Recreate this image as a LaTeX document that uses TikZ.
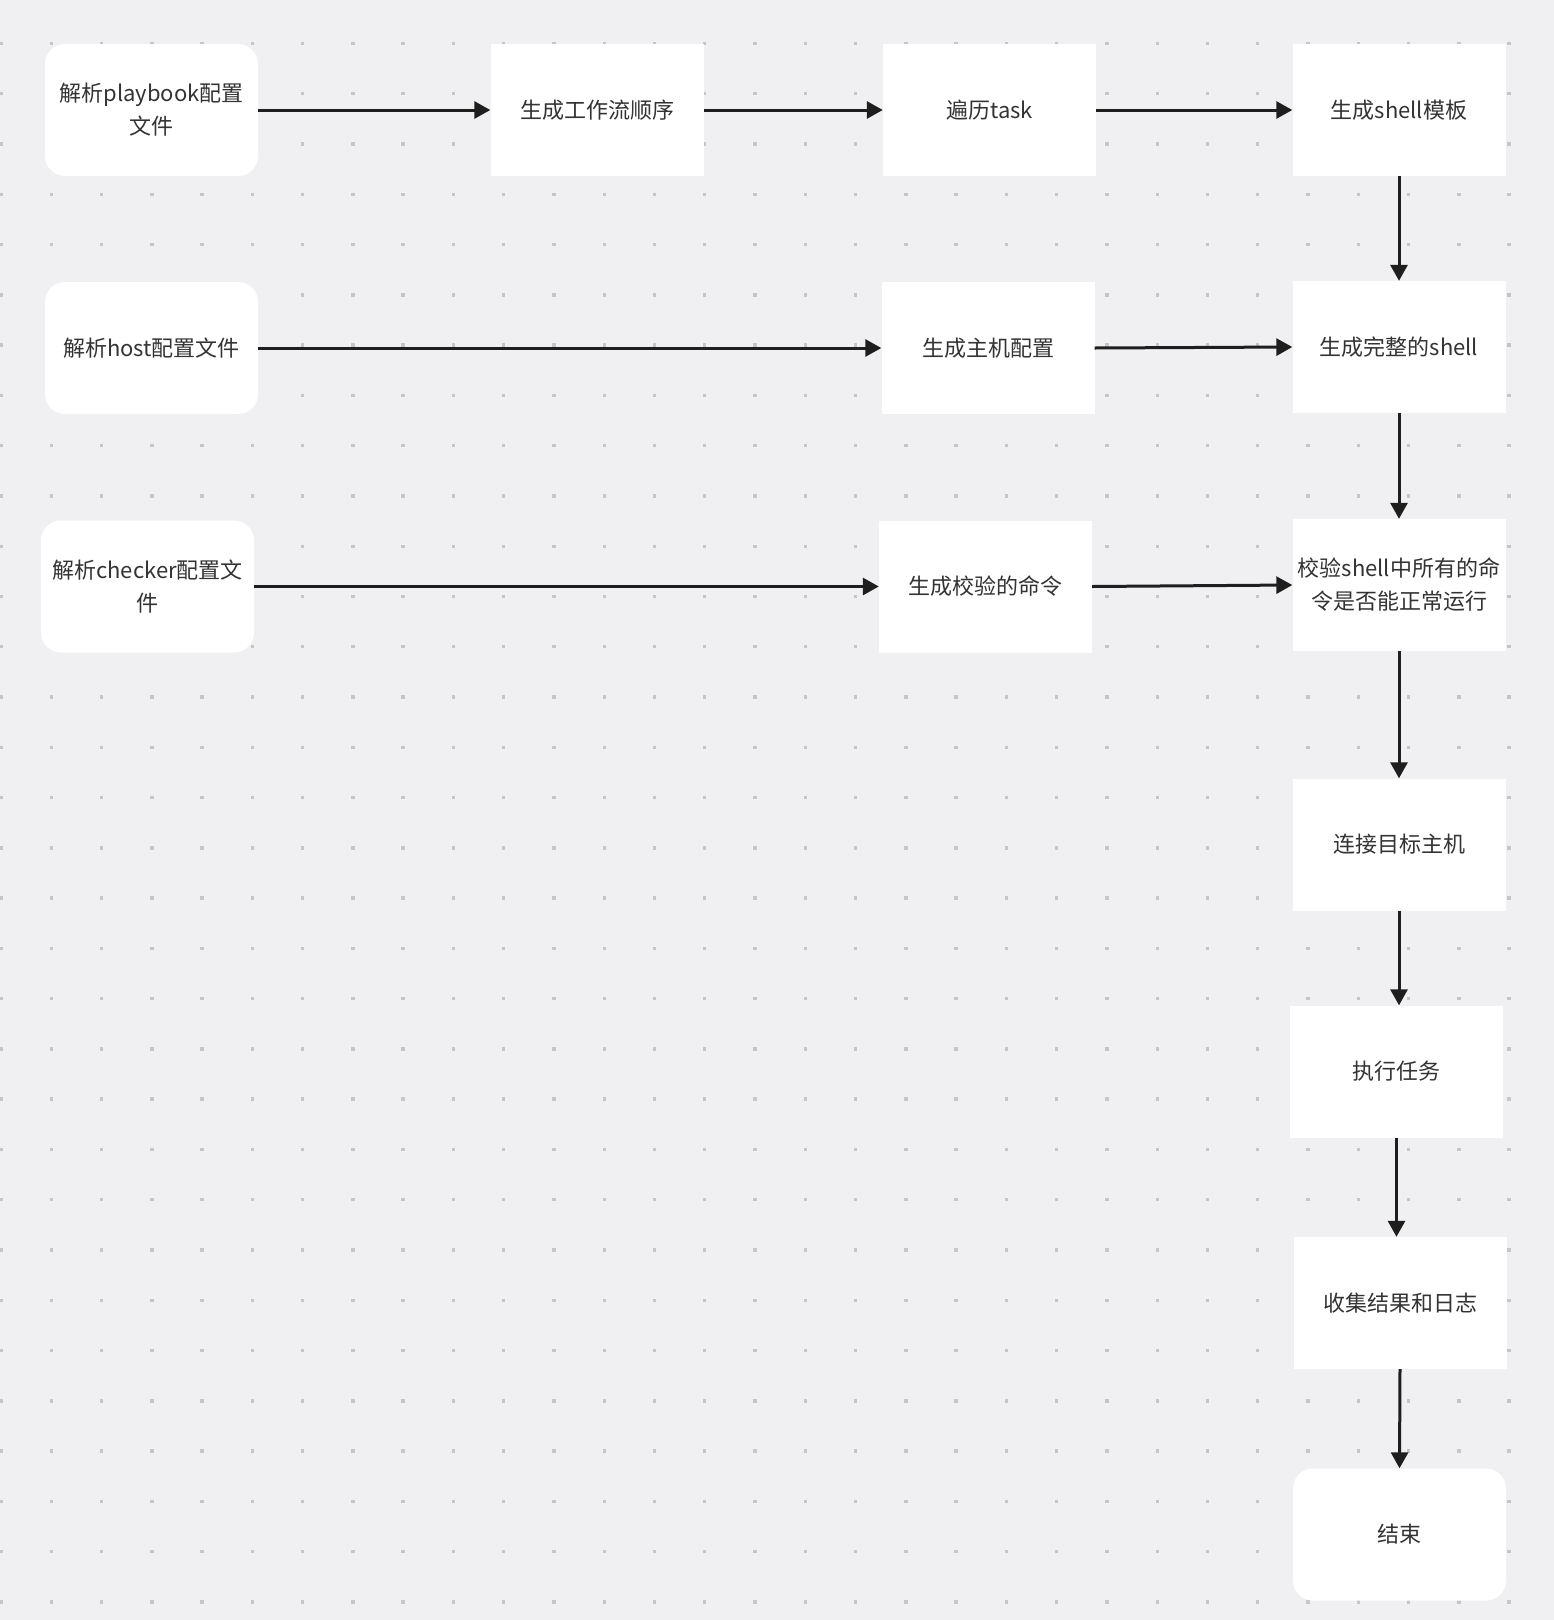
\documentclass[tikz,border=0pt]{standalone}
\usepackage{fontspec}
\setmainfont{Noto Sans CJK SC}
\usetikzlibrary{arrows.meta}
\definecolor{canvas}{HTML}{F0F0F2}
\definecolor{griddot}{HTML}{C6C6C9}
\definecolor{inktext}{HTML}{333333}
\definecolor{inkline}{HTML}{1E1E1E}
\tikzset{
  box/.style={fill=white, draw=none, minimum width=213pt, minimum height=132pt,
    inner sep=0pt, align=center, text=inktext,
    font={\fontsize{22}{33}\selectfont}},
  roundbox/.style={box, rounded corners=20pt},
  flow/.style={draw=inkline, line width=3pt, -{Triangle[length=16pt,width=17pt]}}
}
\begin{document}
\begin{tikzpicture}[x=1pt, y=-1pt]
  % canvas and dot grid
  \fill[canvas] (0,0) rectangle (1554,1620);
  \useasboundingbox (0,0) rectangle (1554,1620);
  \foreach \i in {0,...,30} {
    \foreach \j in {0,...,31} {
      \fill[griddot] ({1+50.27*\i-1.7},{43.5+50.27*\j-1.7}) rectangle ++(3.4,3.4);
    }
  }

  % row 1
  \node[roundbox] (p1) at (151.5,110) {解析playbook配置\\文件};
  \node[box] (p2) at (597,110) {生成工作流顺序};
  \node[box] (p3) at (989.5,110) {遍历task};
  \node[box] (p4) at (1399,110) {生成shell模板};

  % row 2
  \node[roundbox] (h1) at (151.5,348) {解析host配置文件};
  \node[box] (h2) at (988,348) {生成主机配置};
  \node[box] (h3) at (1399,347) {生成完整的shell};

  % row 3
  \node[roundbox] (c1) at (147.5,586.5) {解析checker配置文\\件};
  \node[box] (c2) at (985.5,586.5) {生成校验的命令};
  \node[box] (c3) at (1399,585) {校验shell中所有的命\\令是否能正常运行};

  % right column
  \node[box] (r1) at (1399,844.5) {连接目标主机};
  \node[box] (r2) at (1396.5,1071.5) {执行任务};
  \node[box] (r3) at (1400,1303) {收集结果和日志};
  \node[roundbox] (r4) at (1399.5,1534.5) {结束};

  % connectors
  \draw[flow] (p1) -- (p2);
  \draw[flow] (p2) -- (p3);
  \draw[flow] (p3) -- (p4);
  \draw[flow] (p4) -- (h3);
  \draw[flow] (h1) -- (h2);
  \draw[flow] (h2.east) -- (h3.west);
  \draw[flow] (h3) -- (c3);
  \draw[flow] (c1) -- (c2);
  \draw[flow] (c2.east) -- (c3.west);
  \draw[flow] (c3.south) -- (r1.north);
  \draw[flow] (r1.south) -- (r1.south |- r2.north);
  \draw[flow] (r2.south) -- (r2.south |- r3.north);
  \draw[flow] (r3.south) -- (r4.north);
\end{tikzpicture}
\end{document}
